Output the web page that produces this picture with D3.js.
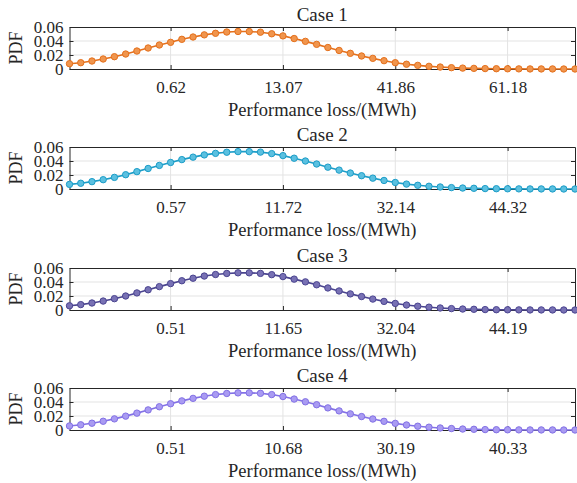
<!DOCTYPE html>
<html>
<head>
<meta charset="utf-8">
<script src="https://cdn.jsdelivr.net/npm/d3@7"></script>
<style>
    body { margin: 0; background: #fff; }
    text { font-family: "Liberation Serif", "Times New Roman", serif; fill: #262626; }
</style>
</head>
<body>
<svg id="chart" width="577" height="483"></svg>
<script>
// sample index along the x axis (46 evaluation points)
const pointIndex = d3.range(1, 47);
const tickIndex = [10, 20, 30, 40];

const caseNames = ["Case 1", "Case 2", "Case 3", "Case 4"];

const case1Ticks = ["0.62", "13.07", "41.86", "61.18"];
const case2Ticks = ["0.57", "11.72", "32.14", "44.32"];
const case3Ticks = ["0.51", "11.65", "32.04", "44.19"];
const case4Ticks = ["0.51", "10.68", "30.19", "40.33"];

const case1Pdf = [0.0076, 0.0090, 0.0114, 0.0143, 0.0176, 0.0214, 0.0257, 0.0300, 0.0343, 0.0381,
    0.0424, 0.0457, 0.0488, 0.0510, 0.0528, 0.0536, 0.0535, 0.0526, 0.0503, 0.0473,
    0.0435, 0.0395, 0.0352, 0.0307, 0.0265, 0.0224, 0.0186, 0.0152, 0.0119, 0.0090,
    0.0068, 0.0052, 0.0038, 0.0028, 0.0019, 0.0013, 0.0009, 0.0006, 0.0004, 0.0003,
    0.0002, 0.0001, 0.0001, 0.0001, 0.0000, 0.0000];
const case2Pdf = [0.0066, 0.0082, 0.0105, 0.0133, 0.0166, 0.0204, 0.0248, 0.0293, 0.0337, 0.0379,
    0.0420, 0.0455, 0.0487, 0.0509, 0.0525, 0.0534, 0.0534, 0.0527, 0.0506, 0.0477,
    0.0440, 0.0400, 0.0357, 0.0312, 0.0270, 0.0228, 0.0190, 0.0155, 0.0122, 0.0093,
    0.0070, 0.0053, 0.0039, 0.0029, 0.0020, 0.0014, 0.0010, 0.0006, 0.0004, 0.0003,
    0.0002, 0.0001, 0.0001, 0.0001, 0.0000, 0.0000];
const case3Pdf = [0.0060, 0.0077, 0.0100, 0.0128, 0.0162, 0.0200, 0.0244, 0.0289, 0.0334, 0.0377,
    0.0418, 0.0454, 0.0485, 0.0507, 0.0522, 0.0531, 0.0531, 0.0523, 0.0505, 0.0477,
    0.0441, 0.0402, 0.0360, 0.0315, 0.0272, 0.0230, 0.0192, 0.0156, 0.0123, 0.0094,
    0.0071, 0.0054, 0.0040, 0.0029, 0.0020, 0.0014, 0.0010, 0.0006, 0.0004, 0.0003,
    0.0002, 0.0001, 0.0001, 0.0001, 0.0000, 0.0000];
const case4Pdf = [0.0058, 0.0074, 0.0097, 0.0125, 0.0159, 0.0198, 0.0241, 0.0287, 0.0332, 0.0375,
    0.0416, 0.0452, 0.0483, 0.0506, 0.0522, 0.0530, 0.0531, 0.0524, 0.0506, 0.0478,
    0.0442, 0.0403, 0.0361, 0.0316, 0.0273, 0.0231, 0.0192, 0.0157, 0.0124, 0.0095,
    0.0072, 0.0054, 0.0040, 0.0029, 0.0021, 0.0014, 0.0010, 0.0006, 0.0004, 0.0003,
    0.0002, 0.0001, 0.0001, 0.0001, 0.0000, 0.0000];

const yTicks = [0, 0.02, 0.04, 0.06];

const lineColours = ["#E5701C", "#1C9DC8", "#4A448F", "#8371E6"];
const fillColours = ["#F0954D", "#5BC0E0", "#7871B4", "#A99BF2"];

const allPdf = [case1Pdf, case2Pdf, case3Pdf, case4Pdf];
const allTicks = [case1Ticks, case2Ticks, case3Ticks, case4Ticks];

const svg = d3.select("#chart");

const left = 69.5, right = 575,
    panelTops = [27, 147, 268, 388],
    panelHeight = 42;

const x = d3.scaleLinear().domain([1, 46]).range([left, right]);

for (let i = 0; i < 4; i++) {
    drawPanel(i);
}

function drawPanel(i) {
    const top = panelTops[i];
    const y = d3.scaleLinear().domain([0, 0.06]).range([top + panelHeight, top]);
    const g = svg.append("g");

    //grid
    g.append("g")
        .selectAll("line")
        .data(tickIndex)
        .join("line")
        .attr("x1", (d) => x(d)).attr("x2", (d) => x(d))
        .attr("y1", top).attr("y2", top + panelHeight)
        .attr("stroke", "#e3e3e3").attr("stroke-width", 1);
    g.append("g")
        .selectAll("line")
        .data([0.02, 0.04])
        .join("line")
        .attr("x1", left).attr("x2", right)
        .attr("y1", (d) => y(d)).attr("y2", (d) => y(d))
        .attr("stroke", "#e3e3e3").attr("stroke-width", 1);

    //axes, MATLAB style with inward ticks on all four sides
    const fmtY = (d) => d === 0 ? "0" : d3.format(".2f")(d);
    const xLabels = allTicks[i];

    const axB = g.append("g")
        .attr("transform", `translate(0,${top + panelHeight})`)
        .call(d3.axisBottom(x).tickValues(tickIndex).tickSizeInner(-4).tickSizeOuter(0)
            .tickPadding(12).tickFormat((d, k) => xLabels[k]));
    const axT = g.append("g")
        .attr("transform", `translate(0,${top})`)
        .call(d3.axisTop(x).tickValues(tickIndex).tickSizeInner(-4).tickSizeOuter(0).tickFormat(""));
    const axL = g.append("g")
        .attr("transform", `translate(${left},0)`)
        .call(d3.axisLeft(y).tickValues(yTicks).tickSizeInner(-4).tickSizeOuter(0)
            .tickPadding(6).tickFormat(fmtY));
    const axR = g.append("g")
        .attr("transform", `translate(${right},0)`)
        .call(d3.axisRight(y).tickValues(yTicks).tickSizeInner(-4).tickSizeOuter(0).tickFormat(""));

    [axB, axT, axL, axR].forEach((a) => {
        a.select(".domain").attr("stroke", "#262626").attr("stroke-width", 1);
        a.selectAll(".tick line").attr("stroke", "#262626");
        a.selectAll("text").attr("font-family", "Liberation Serif, serif").attr("fill", "#262626");
    });
    axB.selectAll("text").attr("font-size", 17).attr("dy", "0.71em");
    axL.selectAll("text").attr("font-size", 17).attr("dy", "0.34em");

    //curve and markers
    const data = pointIndex.map((d, k) => ({ x: d, y: allPdf[i][k] }));
    const line = d3.line().x((d) => x(d.x)).y((d) => y(d.y));

    g.append("path")
        .datum(data)
        .attr("fill", "none")
        .attr("stroke", lineColours[i])
        .attr("stroke-width", 1.6)
        .attr("d", line);

    g.append("g")
        .selectAll("circle")
        .data(data)
        .join("circle")
        .attr("cx", (d) => x(d.x))
        .attr("cy", (d) => y(d.y))
        .attr("r", 3.2)
        .attr("fill", fillColours[i])
        .attr("stroke", lineColours[i])
        .attr("stroke-width", 1);

    //labels
    g.append("text")
        .attr("x", (left + right) / 2)
        .attr("y", top - 6)
        .attr("text-anchor", "middle")
        .attr("font-size", 19)
        .text(caseNames[i]);

    g.append("text")
        .attr("x", (left + right) / 2)
        .attr("y", top + panelHeight + 47)
        .attr("text-anchor", "middle")
        .attr("font-size", 18.5)
        .text("Performance loss/(MWh)");

    g.append("text")
        .attr("transform", `translate(22,${top + panelHeight / 2}) rotate(-90)`)
        .attr("text-anchor", "middle")
        .attr("font-size", 18)
        .text("PDF");
}
</script>
</body>
</html>
